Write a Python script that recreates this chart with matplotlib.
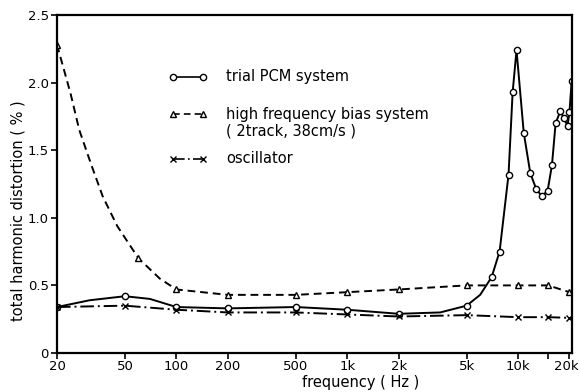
import matplotlib
matplotlib.use("Agg")
import matplotlib.pyplot as plt
from matplotlib.lines import Line2D
import matplotlib.transforms as mtrans

# ---- data ----
pcm_freq = [20, 31, 50, 70, 100, 200, 500, 1000, 2000, 3500, 5000, 6000, 7000, 7800,
            8800, 9300, 9800, 10800, 11800, 12800, 13800, 14900, 15800, 16600,
            17700, 18500, 19500, 20000, 20600]
pcm_thd = [0.34, 0.39, 0.42, 0.40, 0.34, 0.33, 0.34, 0.32, 0.29, 0.30, 0.35, 0.43, 0.56, 0.75,
           1.32, 1.93, 2.24, 1.63, 1.33, 1.21, 1.16, 1.20, 1.39, 1.70,
           1.79, 1.74, 1.68, 1.78, 2.01]
pcm_marked = [0, 2, 4, 5, 6, 7, 8, 10, 12, 13, 14, 15, 16, 17, 18, 19, 20, 21, 22,
              23, 24, 25, 26, 27, 28]

bias_freq = [20, 24, 27, 32, 37, 45, 60, 80, 100, 200, 500, 1000, 2000, 5000, 10000, 15000, 20000]
bias_thd = [2.28, 1.92, 1.65, 1.38, 1.16, 0.94, 0.70, 0.55, 0.47, 0.43, 0.43, 0.45, 0.47, 0.50, 0.50, 0.50, 0.45]
bias_marked = [0, 6, 8, 9, 10, 11, 12, 13, 14, 15, 16]

osc_freq = [20, 50, 100, 200, 500, 1000, 2000, 5000, 10000, 15000, 20000]
osc_thd = [0.34, 0.35, 0.32, 0.30, 0.30, 0.285, 0.27, 0.28, 0.265, 0.265, 0.26]

x_ticks = [20, 50, 100, 200, 500, 1000, 2000, 5000, 10000, 20000]
x_ticklabels = ["20", "50", "100", "200", "500", "1k", "2k", "5k", "10k", "20k"]
y_ticks = [0, 0.5, 1.0, 1.5, 2.0, 2.5]
y_ticklabels = ["0", "0.5", "1.0", "1.5", "2.0", "2.5"]

legend_labels = ["trial PCM system", "high frequency bias system", "( 2track, 38cm/s )", "oscillator"]

plt.rcParams['font.family'] = ['DejaVu Sans']

fig = plt.figure(figsize=(5.79, 3.92), dpi=100)
ax = fig.add_axes([57/579, 39/392, 515/579, 338/392])

lw = 1.4
ax.plot(pcm_freq, pcm_thd, color='black', lw=lw, ls='-', marker='o', ms=4.5,
        mfc='white', mec='black', mew=1.0, markevery=pcm_marked)
ax.plot(bias_freq, bias_thd, color='black', lw=lw, ls=(0, (4, 2.5)), marker='^', ms=5,
        mfc='white', mec='black', mew=1.0, markevery=bias_marked)
ax.plot(osc_freq, osc_thd, color='black', lw=lw, ls=(0, (7, 2, 1, 2)), marker='x', ms=4,
        mec='black', mew=1.0)

ax.set_xscale('log')
ax.set_xlim(20, 20700)
ax.set_ylim(0, 2.5)
ax.set_xticks(x_ticks)
ax.set_xticklabels(x_ticklabels)
ax.xaxis.set_minor_locator(matplotlib.ticker.FixedLocator([15000]))
ax.xaxis.set_minor_formatter(matplotlib.ticker.NullFormatter())
ax.set_yticks(y_ticks)
ax.set_yticklabels(y_ticklabels)
ax.tick_params(axis='both', which='major', direction='out', length=4, width=1.2,
               labelsize=9.5, color='black')
ax.tick_params(axis='x', which='minor', direction='out', length=4, width=1.2)
ax.tick_params(axis='y', pad=2)
ax.tick_params(axis='x', pad=1)
for s in ax.spines.values():
    s.set_linewidth(1.6)

# nudge the last x tick label so it stays inside the figure
last = ax.get_xticklabels()[-1]
last.set_transform(last.get_transform() + mtrans.ScaledTranslation(-3/100, 0, fig.dpi_scale_trans))

ax.set_xlabel("frequency ( Hz )", fontsize=10.5)
ax.xaxis.set_label_coords(0.59, -0.065)
ax.set_ylabel("total harmonic distortion ( % )", fontsize=10.5)
ax.yaxis.set_label_coords(-0.062, 0.42)

# legend drawn inside the axes
tr = ax.transAxes
x0, x1, xt = 0.225, 0.2835, 0.328
ys = [0.817, 0.707, 0.574]
styles = [dict(ls='-', marker='o', mfc='white', ms=4.5),
          dict(ls=(0, (4, 2.5)), marker='^', mfc='white', ms=5),
          dict(ls=(0, (7, 2, 1, 2)), marker='x', ms=4)]
for y, st in zip(ys, styles):
    ax.add_line(Line2D([x0, x1], [y, y], transform=tr, color='black', lw=1.2,
                       mec='black', mew=1.0, **st))
ax.text(xt, ys[0], legend_labels[0], transform=tr, va='center', ha='left', fontsize=10.5)
ax.text(xt, ys[1], legend_labels[1], transform=tr, va='center', ha='left', fontsize=10.5)
ax.text(xt, 0.657, legend_labels[2], transform=tr, va='center', ha='left', fontsize=10.5)
ax.text(xt, ys[2], legend_labels[3], transform=tr, va='center', ha='left', fontsize=10.5)

fig.savefig("out.png", dpi=100)
